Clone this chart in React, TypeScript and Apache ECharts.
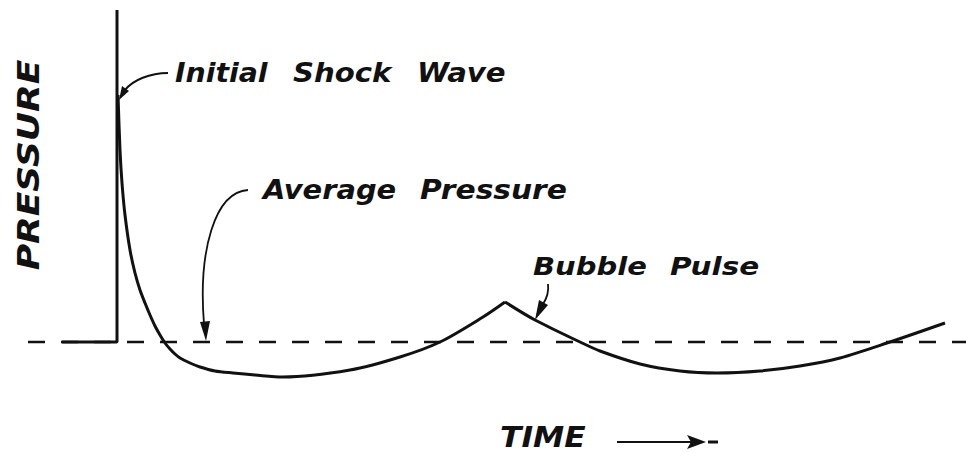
import React, { useEffect, useRef } from "react";
import * as echarts from "echarts";

// Time axis (arbitrary units) and pressure relative to the average pressure (0)
const avgTime = [28, 966];
const avgPressure = [0, 0];

const stepTime = [62, 117, 117];
const stepPressure = [0, 0, 332];

const shockTime = [118, 120, 122, 125, 130, 135, 140, 145, 150, 155, 160, 165, 170, 175, 180, 190, 200, 215, 233, 255, 283, 350, 400, 440, 483, 505];
const shockPressure = [247, 192, 159, 127, 92, 69, 52, 39, 27, 16, 7, -1, -7, -12, -16, -21, -25, -29, -31, -33, -35, -28, -15, 0, 25, 40];

const bubbleTime = [505, 535, 580, 600, 640, 680, 717, 760, 800, 840, 890, 945];
const bubblePressure = [40, 22, 0, -9, -22, -29, -31, -29, -24, -16, 0, 19];

const zip = (a: number[], b: number[]) => a.map((v, i) => [v, b[i]]);

const INK = "#111";
const FONT = "DejaVu Sans";

function word(text: string, x: number, y: number, size: number, sx: number) {
  return {
    type: "text",
    x,
    y,
    scaleX: sx,
    style: {
      text,
      fontSize: size,
      fontFamily: FONT,
      fontStyle: "italic",
      fontWeight: "bold",
      fill: INK,
      textAlign: "left",
      textVerticalAlign: "middle",
    },
  };
}

export default function App() {
  const ref = useRef<HTMLDivElement>(null);
  useEffect(() => {
    if (!ref.current) return;
    const chart = echarts.init(ref.current, undefined, { renderer: "svg" });
    chart.setOption({
      animation: false,
      backgroundColor: "#fff",
      grid: { left: 0, right: 0, top: 0, bottom: 0 },
      xAxis: { type: "value", min: 0, max: 966, show: false },
      yAxis: { type: "value", min: -111, max: 342, show: false },
      series: [
        {
          type: "line",
          data: zip(avgTime, avgPressure),
          symbol: "none",
          lineStyle: { color: INK, width: 2.6, type: [17, 16] },
        },
        {
          type: "line",
          data: zip(stepTime, stepPressure),
          symbol: "none",
          lineStyle: { color: INK, width: 3 },
        },
        {
          type: "line",
          data: zip(shockTime, shockPressure),
          symbol: "none",
          smooth: 0.3,
          lineStyle: { color: INK, width: 3 },
        },
        {
          type: "line",
          data: zip(bubbleTime, bubblePressure),
          symbol: "none",
          smooth: 0.3,
          lineStyle: { color: INK, width: 3 },
        },
      ],
      graphic: [
        {
          type: "text",
          x: 29,
          y: 165,
          rotation: Math.PI / 2,
          scaleX: 1.2,
          style: {
            text: "PRESSURE",
            fontSize: 30,
            fontFamily: FONT,
            fontStyle: "italic",
            fontWeight: "bold",
            fill: INK,
            textAlign: "center",
            textVerticalAlign: "middle",
          },
        },
        word("Initial", 175, 73, 27, 1.05),
        word("Shock", 293, 73, 27, 1.08),
        word("Wave", 417, 73, 27, 1.08),
        word("Average", 263, 190, 27, 1.07),
        word("Pressure", 420, 190, 27, 1.1),
        word("Bubble", 533, 266, 25, 1.16),
        word("Pulse", 670, 266, 25, 1.18),
        word("TIME", 500, 437, 28, 1.12),
        // arrow: initial shock wave
        {
          type: "bezierCurve",
          shape: { x1: 168, y1: 73, cpx1: 150, cpy1: 73, cpx2: 133, cpy2: 80, x2: 125, y2: 90 },
          style: { stroke: INK, lineWidth: 2, fill: "none" },
        },
        {
          type: "polygon",
          shape: { points: [[119, 100], [129, 91], [122, 86]] },
          style: { fill: INK },
        },
        // arrow: average pressure
        {
          type: "bezierCurve",
          shape: { x1: 248, y1: 190, cpx1: 215, cpy1: 192, cpx2: 198, cpy2: 250, x2: 204, y2: 324 },
          style: { stroke: INK, lineWidth: 1.8, fill: "none" },
        },
        {
          type: "polygon",
          shape: { points: [[206, 341], [210, 321], [200, 322]] },
          style: { fill: INK },
        },
        // arrow: bubble pulse
        {
          type: "bezierCurve",
          shape: { x1: 548, y1: 284, cpx1: 549, cpy1: 292, cpx2: 547, cpy2: 298, x2: 543, y2: 304 },
          style: { stroke: INK, lineWidth: 1.8, fill: "none" },
        },
        {
          type: "polygon",
          shape: { points: [[535, 320], [548, 305], [539, 300]] },
          style: { fill: INK },
        },
        // time arrow
        {
          type: "line",
          shape: { x1: 617, y1: 442, x2: 692, y2: 442 },
          style: { stroke: INK, lineWidth: 2.2 },
        },
        {
          type: "polygon",
          shape: { points: [[687, 435], [706, 442], [687, 449], [691, 442]] },
          style: { fill: INK },
        },
        {
          type: "rect",
          shape: { x: 708, y: 440.5, width: 10, height: 3 },
          style: { fill: INK },
        },
      ],
    });
    return () => chart.dispose();
  }, []);
  return (
    <div
      ref={ref}
      style={{ position: "absolute", left: 0, top: 0, width: 966, height: 453 }}
    />
  );
}
